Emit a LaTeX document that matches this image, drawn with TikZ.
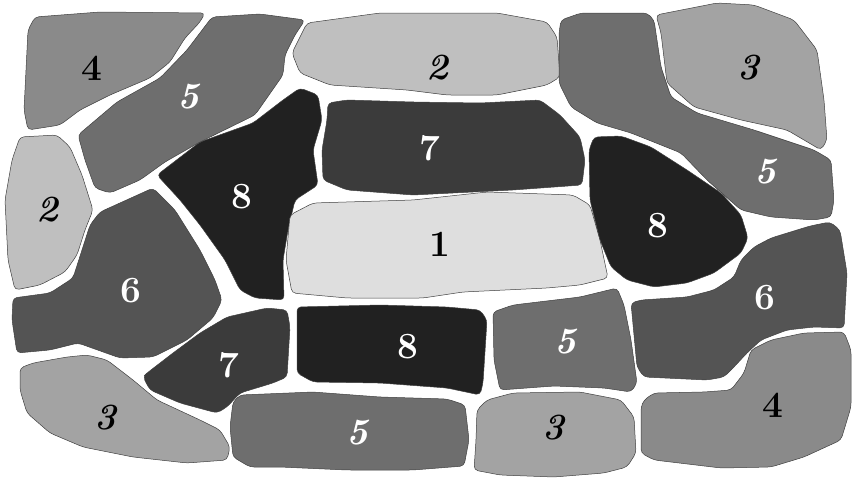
\documentclass[tikz,border=0pt]{standalone}
\usepackage{tikz}

\begin{document}
\begin{tikzpicture}[
  x=1pt, y=-1pt,
  region/.style={draw=black!75, line width=0.5pt, rounded corners=4pt},
  lvl1/.style={region, fill=black!13},
  lvl2/.style={region, fill=black!25},
  lvl3/.style={region, fill=black!36},
  lvl4/.style={region, fill=black!46},
  lvl5/.style={region, fill=black!57},
  lvl6/.style={region, fill=black!67},
  lvl7/.style={region, fill=black!77},
  lvl8/.style={region, fill=black!87},
  num/.style={font=\fontsize{37}{37}\selectfont\bfseries, inner sep=0pt},
  numit/.style={num, font=\fontsize{37}{37}\selectfont\bfseries\itshape},
  dk/.style={text=black},
  lt/.style={text=white}
]
\useasboundingbox (0,0) rectangle (854,479);

% top row
\draw[lvl4] (35,17) -- (100,12) -- (205,13) -- (200,22) -- (185,38) -- (170,62) -- (150,78) -- (110,95) -- (80,110) -- (60,125) -- (28,130) -- (24,110) -- (28,30) -- cycle;
\draw[lvl5] (78,135) -- (117,102) -- (160,78) -- (187,50) -- (212,17) -- (260,14) -- (305,20) -- (295,35) -- (285,55) -- (283,75) -- (255,115) -- (200,142) -- (165,162) -- (140,180) -- (110,193) -- (95,188) -- (85,160) -- cycle;
\draw[lvl2] (292,53) -- (307,23) -- (380,13) -- (497,13) -- (547,22) -- (557,37) -- (560,77) -- (547,85) -- (497,95) -- (447,95) -- (407,90) -- (330,85) -- (300,73) -- cycle;
\draw[lvl5] (561,20) -- (581,13) -- (647,13) -- (654,20) -- (661,67) -- (671,97) -- (697,113) -- (754,130) -- (814,150) -- (831,160) -- (834,200) -- (831,217) -- (814,220) -- (771,217) -- (741,210) -- (707,180) -- (681,153) -- (631,133) -- (597,123) -- (571,107) -- (559,83) -- (559,33) -- cycle;
\draw[lvl3] (656,15) -- (717,3) -- (754,5) -- (794,20) -- (817,50) -- (824,100) -- (827,140) -- (821,150) -- (787,130) -- (741,120) -- (694,107) -- (667,83) -- (661,33) -- cycle;

% middle row
\draw[lvl2] (20,137) -- (57,135) -- (70,147) -- (82,175) -- (93,210) -- (85,230) -- (77,255) -- (65,272) -- (40,285) -- (15,290) -- (8,260) -- (5,200) -- (12,160) -- cycle;
\draw[lvl8] (157,175) -- (200,142) -- (253,123) -- (283,100) -- (300,88) -- (318,95) -- (322,120) -- (313,150) -- (318,185) -- (295,200) -- (288,230) -- (283,260) -- (284,300) -- (255,298) -- (240,290) -- (225,260) -- (200,225) -- (180,200) -- cycle;
\draw[lvl7] (328,103) -- (347,100) -- (413,102) -- (480,103) -- (540,100) -- (560,115) -- (580,137) -- (585,160) -- (582,185) -- (513,190) -- (413,195) -- (347,190) -- (323,180) -- (322,150) -- (327,120) -- cycle;
\draw[lvl1] (290,215) -- (313,203) -- (413,200) -- (487,192) -- (573,195) -- (590,205) -- (600,240) -- (608,278) -- (580,285) -- (547,288) -- (463,292) -- (423,298) -- (347,298) -- (292,293) -- (286,260) -- cycle;
\draw[lvl8] (594,137) -- (621,136) -- (651,147) -- (687,170) -- (721,193) -- (741,215) -- (748,238) -- (741,253) -- (714,273) -- (687,283) -- (654,287) -- (627,280) -- (611,267) -- (600,240) -- (590,200) -- (589,150) -- cycle;
\draw[lvl6] (13,298) -- (50,293) -- (73,278) -- (82,250) -- (90,225) -- (100,212) -- (153,188) -- (175,210) -- (200,250) -- (215,280) -- (222,300) -- (213,318) -- (187,340) -- (153,357) -- (120,358) -- (78,343) -- (50,350) -- (17,353) -- (12,320) -- cycle;
\draw[lvl6] (631,303) -- (641,300) -- (687,297) -- (714,290) -- (734,277) -- (741,260) -- (754,247) -- (771,238) -- (810,226) -- (830,222) -- (840,230) -- (847,273) -- (844,328) -- (814,327) -- (787,330) -- (761,340) -- (747,353) -- (734,367) -- (724,377) -- (707,380) -- (644,377) -- (637,367) -- cycle;

% lower rows
\draw[lvl7] (147,373) -- (173,353) -- (200,333) -- (227,317) -- (267,308) -- (287,310) -- (290,327) -- (287,377) -- (273,383) -- (240,393) -- (227,407) -- (217,413) -- (180,403) -- (150,390) -- (143,377) -- cycle;
\draw[lvl8] (297,307) -- (380,305) -- (447,307) -- (480,310) -- (487,320) -- (483,383) -- (480,395) -- (447,388) -- (380,383) -- (313,382) -- (297,373) -- (297,323) -- cycle;
\draw[lvl5] (493,312) -- (513,305) -- (580,297) -- (617,288) -- (624,305) -- (631,340) -- (637,383) -- (631,392) -- (604,388) -- (554,386) -- (500,390) -- (494,360) -- cycle;
\draw[lvl3] (20,368) -- (33,363) -- (67,357) -- (87,355) -- (107,360) -- (133,380) -- (157,400) -- (200,420) -- (220,430) -- (230,447) -- (227,460) -- (187,463) -- (133,457) -- (83,447) -- (50,433) -- (27,413) -- (20,390) -- cycle;
\draw[lvl5] (240,395) -- (313,392) -- (380,397) -- (447,399) -- (465,405) -- (469,440) -- (464,466) -- (413,470) -- (347,470) -- (280,467) -- (250,467) -- (233,457) -- (230,427) -- (233,402) -- cycle;
\draw[lvl3] (477,410) -- (487,400) -- (513,393) -- (580,392) -- (621,400) -- (634,417) -- (636,453) -- (627,467) -- (604,473) -- (554,477) -- (500,475) -- (474,470) -- (476,440) -- cycle;
\draw[lvl4] (644,400) -- (654,393) -- (704,392) -- (731,390) -- (744,373) -- (751,350) -- (771,340) -- (804,333) -- (844,332) -- (851,350) -- (851,407) -- (841,440) -- (804,457) -- (771,467) -- (721,468) -- (654,460) -- (641,453) -- (641,407) -- cycle;

% labels
\node[num, dk] (n4a) at (92,68) {4};
\node[numit, lt] (n5a) at (188,97) {5};
\node[numit, dk] (n2a) at (437,68) {2};
\node[numit, dk] (n3a) at (748,68) {3};
\node[num, lt] (n7a) at (430,148) {7};
\node[numit, lt] (n5b) at (765,172) {5};
\node[numit, dk] (n2b) at (47,210) {2};
\node[num, lt] (n8a) at (242,197) {8};
\node[num, dk] (n1) at (440,244) {1};
\node[num, lt] (n8b) at (658,226) {8};
\node[num, lt] (n6a) at (131,291) {6};
\node[num, lt] (n6b) at (765,298) {6};
\node[num, lt] (n7b) at (229,365) {7};
\node[num, lt] (n8c) at (408,347) {8};
\node[numit, lt] (n5c) at (565,342) {5};
\node[numit, dk] (n3b) at (105,418) {3};
\node[numit, lt] (n5d) at (357,433) {5};
\node[numit, dk] (n3c) at (553,428) {3};
\node[num, dk] (n4b) at (773,405) {4};
\end{tikzpicture}
\end{document}
